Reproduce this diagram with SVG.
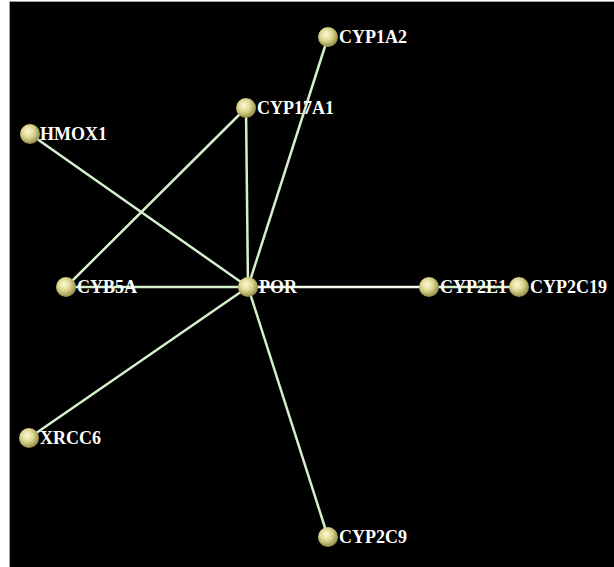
<svg xmlns="http://www.w3.org/2000/svg" width="614" height="567" viewBox="0 0 614 567">
<style>
.edge{stroke:#d4f0cc;stroke-width:2.5;fill:none}
.node circle{fill:url(#ball)}
.node text{font-family:"Liberation Serif",serif;font-weight:bold;font-size:18px;fill:#ffffff}
</style>
<defs>
<radialGradient id="ball" cx="0.42" cy="0.4" r="0.62" fx="0.4" fy="0.36">
<stop offset="0" stop-color="#fcfcd6"/>
<stop offset="0.5" stop-color="#dcd690"/>
<stop offset="1" stop-color="#8e8842"/>
</radialGradient>
</defs>
<rect x="0" y="0" width="614" height="567" fill="#ffffff"/>
<rect x="9" y="1" width="605" height="566" fill="#a0a0a0"/>
<rect x="10" y="2" width="604" height="565" fill="#000000"/>
<g id="edges">
<line class="edge" x1="248" y1="287" x2="328" y2="37"/>
<line class="edge" x1="248" y1="287" x2="246" y2="108"/>
<line class="edge" x1="248" y1="287" x2="30" y2="134"/>
<line class="edge" x1="248" y1="287" x2="66" y2="287"/>
<line class="edge" x1="248" y1="287" x2="429" y2="287" style="stroke:#f2faf0"/>
<line class="edge" x1="429" y1="287" x2="519" y2="287"/>
<line class="edge" x1="248" y1="287" x2="29" y2="438"/>
<line class="edge" x1="248" y1="287" x2="328" y2="537"/>
<line class="edge" x1="246" y1="108" x2="66" y2="287"/>
</g>
<g id="CYP1A2" class="node"><circle cx="328" cy="37" r="10"/><text x="339" y="43">CYP1A2</text></g>
<g id="CYP17A1" class="node"><circle cx="246" cy="108" r="10"/><text x="257" y="114">CYP17A1</text></g>
<g id="HMOX1" class="node"><circle cx="30" cy="134" r="10"/><text x="40" y="140">HMOX1</text></g>
<g id="CYB5A" class="node"><circle cx="66" cy="287" r="10"/><text x="77" y="293">CYB5A</text></g>
<g id="POR" class="node"><circle cx="248" cy="287" r="10"/><text x="259" y="293">POR</text></g>
<g id="CYP2E1" class="node"><circle cx="429" cy="287" r="10"/><text x="440" y="293">CYP2E1</text></g>
<g id="CYP2C19" class="node"><circle cx="519" cy="287" r="10"/><text x="530" y="293">CYP2C19</text></g>
<g id="XRCC6" class="node"><circle cx="29" cy="438" r="10"/><text x="40" y="444">XRCC6</text></g>
<g id="CYP2C9" class="node"><circle cx="328" cy="537" r="10"/><text x="339" y="543">CYP2C9</text></g>
</svg>
